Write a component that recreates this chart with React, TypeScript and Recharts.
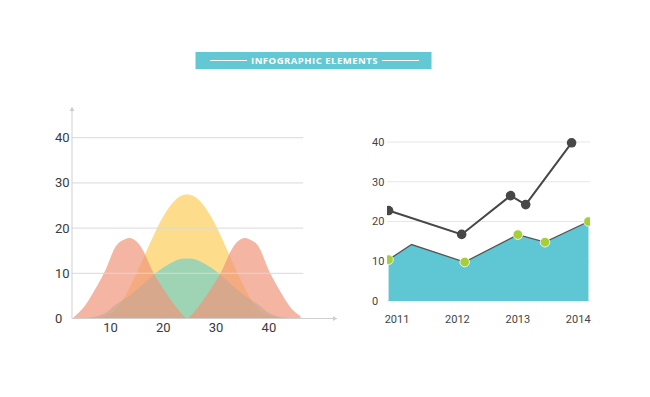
import React from "react";
import {
  AreaChart,
  Area,
  XAxis,
  YAxis,
  ReferenceLine,
  ReferenceDot,
  ComposedChart,
  Line,
  CartesianGrid,
} from "recharts";

// ---------- Left chart data ----------
const leftX = [3, 5, 7, 9, 11, 12.5, 13.5, 14.5, 16, 18, 20, 22, 23.5, 24.5, 25.5, 27, 29, 31, 33, 34.5, 35.5, 36.5, 38, 40, 42, 44, 46];
const salmonVals = [0.3, 2.6, 6.3, 10.6, 16.0, 17.4, 17.8, 17.4, 15.4, 10.4, 6.6, 3.2, 1.0, 0.1, 1.0, 3.2, 6.6, 10.4, 15.4, 17.4, 17.8, 17.4, 16.0, 10.6, 6.3, 2.6, 0.5];
const yellowVals = [0, 0, 0.1, 0.6, 2.0, 4.4, 6.6, 9.0, 12.8, 18.0, 22.6, 25.9, 27.2, 27.5, 27.2, 25.9, 22.6, 18.0, 12.8, 9.0, 6.6, 4.4, 2.0, 0.6, 0.1, 0, 0];
const greenVals = [0, 0.1, 0.4, 1.2, 3.1, 4.2, 5.0, 5.9, 7.4, 9.5, 11.3, 12.6, 13.2, 13.3, 13.2, 12.6, 11.3, 9.5, 7.4, 5.9, 5.0, 4.2, 3.1, 1.2, 0.4, 0.1, 0];
const leftXTicks = [10, 20, 30, 40];
const leftYTicks = [0, 10, 20, 30, 40];
const leftGrid = [10, 20, 30, 40];
const leftXDomain: [number, number] = [2.7, 52.9];
const leftYDomain: [number, number] = [0, 46.8];
const leftGridEnd = 46.5;

// ---------- Right chart data ----------
const rightX = [2010.86, 2011.24, 2012.07, 2012.12, 2012.88, 2013.0, 2013.13, 2013.45, 2013.89, 2014.17];
const areaVals = [10.4, 14.2, null, 9.8, null, 16.7, null, 14.8, null, 20.0];
const dotVals = [10.4, null, null, 9.8, null, 16.7, null, 14.8, null, 20.0];
const darkVals = [22.75, null, 16.75, null, 26.5, null, 24.25, null, 39.8, null];
const rightXTicks = [2011, 2012, 2013, 2014];
const rightYTicks = [0, 10, 20, 30, 40];
const rightXDomain: [number, number] = [2010.834, 2014.195];

const title = "INFOGRAPHIC ELEMENTS";

const leftData = leftX.map((x, i) => ({
  x,
  salmon: salmonVals[i],
  yellow: yellowVals[i],
  green: greenVals[i],
}));

const rightData = rightX.map((x, i) => ({
  x,
  area: areaVals[i],
  dots: dotVals[i],
  dark: darkVals[i],
}));

const LeftYTick = (props: any) => {
  const { x, y, payload } = props;
  return (
    <text x={x - 17} y={y} dy="0.35em" textAnchor="start" fontSize={13} fill="#3a3a3a" fontFamily="Roboto">
      {payload.value}
    </text>
  );
};

const RightYTick = (props: any) => {
  const { x, y, payload } = props;
  return (
    <text x={x - 15} y={y} dy="0.35em" textAnchor="start" fontSize={11} fill="#444" fontFamily="Roboto">
      {payload.value}
    </text>
  );
};

const ArrowUp = (props: any) => {
  const { cx, cy } = props;
  return <path d={`M${cx - 2.5},${cy + 4} L${cx},${cy} L${cx + 2.5},${cy + 4} Z`} fill="#cfcfcf" />;
};
const ArrowRight = (props: any) => {
  const { cx, cy } = props;
  return <path d={`M${cx - 4},${cy - 2.5} L${cx},${cy} L${cx - 4},${cy + 2.5} Z`} fill="#cfcfcf" />;
};

export default function App() {
  return (
    <div style={{ position: "fixed", left: 0, top: 0, width: 650, height: 397, background: "#fff" }}>
      {/* Banner */}
      <svg width={650} height={397} style={{ position: "absolute", left: 0, top: 0 }}>
        <rect x={195.5} y={52} width={236} height={17} fill="#62c8d4" />
        <line x1={210} x2={247} y1={60.5} y2={60.5} stroke="#fff" strokeWidth={1} />
        <line x1={382} x2={419} y1={60.5} y2={60.5} stroke="#fff" strokeWidth={1} />
        <text
          x={314.5}
          y={60.5}
          dy="0.35em"
          textAnchor="middle"
          fontSize={9.5}
          fontWeight={700}
          letterSpacing={0.5}
          fill="#fff"
          fontFamily="'Open Sans'"
        >
          {title}
        </text>
      </svg>

      {/* Left chart */}
      <div style={{ position: "absolute", left: 0, top: 0 }}>
        <AreaChart
          width={650}
          height={397}
          data={leftData}
          margin={{ top: 107, right: 313, bottom: 58.5, left: 55 }}
        >
          <XAxis
            dataKey="x"
            type="number"
            domain={leftXDomain}
            ticks={leftXTicks}
            allowDataOverflow
            height={20}
            tickSize={0}
            tickMargin={4.5}
            axisLine={{ stroke: "#cfcfcf" }}
            tick={{ fontSize: 13, fill: "#3a3a3a", fontFamily: "Roboto" }}
          />
          <YAxis
            type="number"
            domain={leftYDomain}
            ticks={leftYTicks}
            allowDataOverflow
            width={17}
            tickSize={0}
            tickMargin={0}
            axisLine={{ stroke: "#cfcfcf" }}
            tick={<LeftYTick />}
          />
          <Area
            type="monotone"
            dataKey="yellow"
            stroke="none"
            fill="#fdd46e"
            fillOpacity={0.8}
            isAnimationActive={false}
            dot={false}
            activeDot={false}
          />
          <Area
            type="monotone"
            dataKey="green"
            stroke="none"
            fill="#6ccfc9"
            fillOpacity={0.65}
            isAnimationActive={false}
            dot={false}
            activeDot={false}
          />
          <Area
            type="monotone"
            dataKey="salmon"
            stroke="none"
            fill="#f0957a"
            fillOpacity={0.7}
            isAnimationActive={false}
            dot={false}
            activeDot={false}
          />
          {leftGrid.map((g) => (
            <ReferenceLine
              key={g}
              segment={[
                { x: leftXDomain[0], y: g },
                { x: leftGridEnd, y: g },
              ]}
              stroke="#d9d9d9"
              strokeWidth={1}
            />
          ))}
          <ReferenceDot x={leftXDomain[0]} y={leftYDomain[1]} ifOverflow="visible" shape={<ArrowUp />} />
          <ReferenceDot x={leftXDomain[1]} y={0} ifOverflow="visible" shape={<ArrowRight />} />
        </AreaChart>
      </div>

      {/* Right chart */}
      <div style={{ position: "absolute", left: 0, top: 0 }}>
        <ComposedChart
          width={650}
          height={397}
          data={rightData}
          margin={{ top: 142, right: 60, bottom: 76, left: 372 }}
        >
          <CartesianGrid vertical={false} stroke="#e6e6e6" />
          <XAxis
            dataKey="x"
            type="number"
            domain={rightXDomain}
            ticks={rightXTicks}
            allowDataOverflow
            height={20}
            tickSize={0}
            tickMargin={14}
            axisLine={false}
            tick={{ fontSize: 11, fill: "#444", fontFamily: "Roboto" }}
          />
          <YAxis
            type="number"
            domain={[0, 40]}
            ticks={rightYTicks}
            width={15}
            tickSize={0}
            tickMargin={0}
            axisLine={false}
            tick={<RightYTick />}
          />
          <Area
            type="linear"
            dataKey="area"
            connectNulls
            stroke="#555"
            strokeWidth={1.3}
            fill="#5fc7d4"
            fillOpacity={1}
            isAnimationActive={false}
            dot={false}
            activeDot={false}
          />
          <Line
            type="linear"
            dataKey="dark"
            connectNulls
            stroke="#474747"
            strokeWidth={2}
            dot={{ r: 4.8, fill: "#474747", stroke: "#474747", strokeWidth: 0 }}
            activeDot={false}
            isAnimationActive={false}
          />
          <Line
            type="linear"
            dataKey="dots"
            stroke="none"
            dot={{ r: 4.8, fill: "#a6ce39", stroke: "#ffffff", strokeWidth: 0.8 }}
            activeDot={false}
            isAnimationActive={false}
          />
        </ComposedChart>
      </div>
    </div>
  );
}
